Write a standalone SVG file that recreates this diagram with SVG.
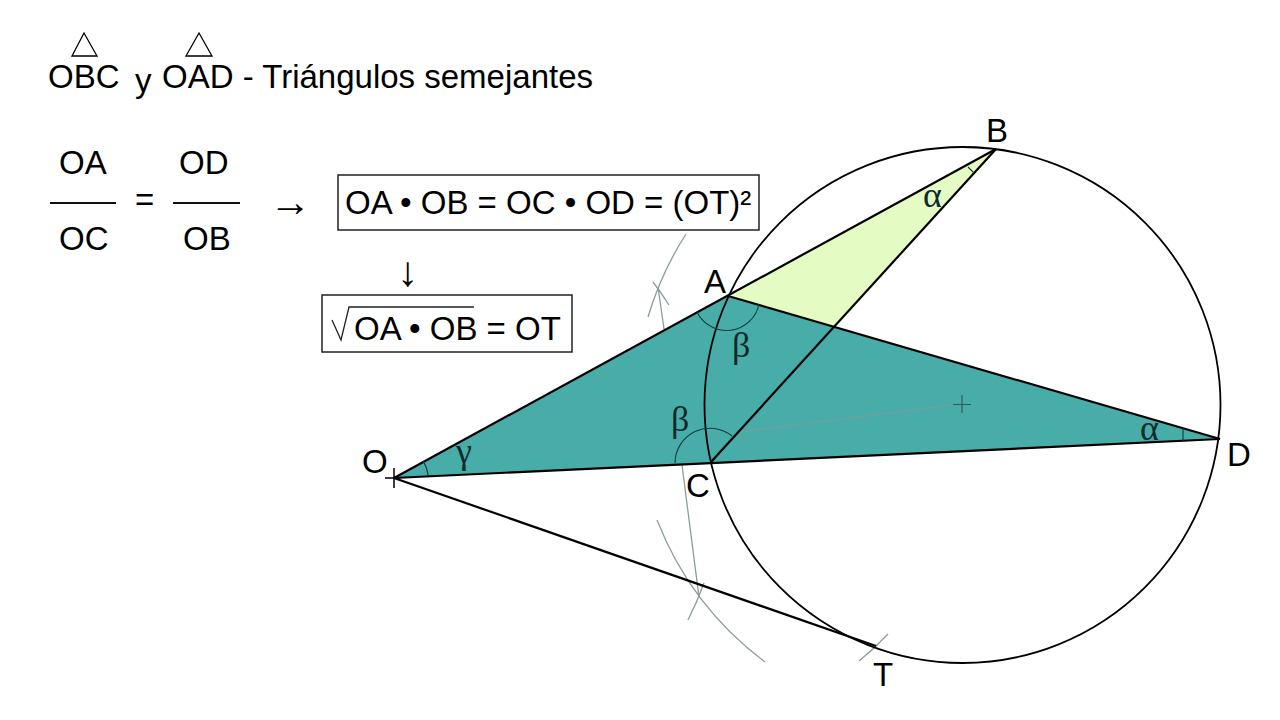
<svg xmlns="http://www.w3.org/2000/svg" width="1280" height="720" viewBox="0 0 1280 720">
<style>
.t{font-family:"Liberation Sans",Arial,sans-serif;font-size:33px;fill:#000}
.ar{font-family:"Liberation Sans",Arial,sans-serif;font-size:42px;fill:#000}
.g{font-family:"Liberation Serif","DejaVu Serif",serif;font-size:36px;fill:#0f2a2a}
.k{fill:none;stroke:#000;stroke-width:2.200}
.c{fill:none;stroke:#000;stroke-width:1.800}
.b{fill:none;stroke:#111;stroke-width:2.200}
.f{fill:none;stroke:#8d9c9c;stroke-width:1.300}
.a{fill:none;stroke:#0c3c3c;stroke-width:1.100}
</style>
<rect width="1280" height="720" fill="#fff"/>
<g id="fills">
<polygon points="394,478 728,296 835,327 1220,439" fill="#48ADA8"/>
<polygon points="728,296 996,149 835,327" fill="#E4FBC4"/>
</g>
<g id="construction">
<path class="f" d="M686 234A326 326 0 0 0 648 317"/>
<path class="f" d="M653 282A325 325 0 0 1 669 305"/>
<path class="f" d="M657 520A326 326 0 0 0 765 662"/>
<path class="f" d="M704 583A325 325 0 0 1 688 620"/>
<path class="f" d="M888 634A286 286 0 0 1 859 661"/>
<path class="f" d="M658 287L664 329M682 465L699 597"/>
<path d="M740 432L962 404" fill="none" stroke="#7f9a9a" stroke-width="1"/>
<path d="M953 404.500H971M962 395V413" fill="none" stroke="#2c5a5a" stroke-width="1.100"/>
</g>
<g id="connectors">
<circle class="c" cx="962.500" cy="405" r="258"/>
<path class="k" d="M394 478L996 149"/>
<path class="k" d="M394 478L1220 439"/>
<path class="k" d="M728 296L1220 439"/>
<path class="k" d="M711 462L996 149"/>
<path class="k" d="M394 478L876 646"/>
<path d="M385 478H400M394 468V488" fill="none" stroke="#000" stroke-width="1.500"/>
</g>
<g id="angles">
<path class="a" d="M697 312A33 33 0 0 0 759 304"/>
<path class="a" d="M675 463A35 35 0 0 1 732 436"/>
<path class="a" d="M423 461A33 33 0 0 1 428 475"/>
<path class="a" d="M1183 428L1183 442"/>
<path class="a" d="M968 167L974 173"/>
<text class="g" x="732" y="357">β</text>
<text class="g" x="671" y="431">β</text>
<text class="g" x="456" y="463">γ</text>
<text class="g" x="1140" y="440">α</text>
<text class="g" x="923" y="207">α</text>
</g>
<g id="labels">
<text class="t" x="704" y="293">A</text>
<text class="t" x="986" y="142">B</text>
<text class="t" x="362" y="473">O</text>
<text class="t" x="686" y="497">C</text>
<text class="t" x="1227" y="466">D</text>
<text class="t" x="873" y="686">T</text>
</g>
<g id="title">
<polygon points="84,33 72,56 97,56" fill="none" stroke="#000" stroke-width="1.300"/>
<polygon points="199,33 186,56 212,56" fill="none" stroke="#000" stroke-width="1.300"/>
<text class="t" x="48" y="88">OBC</text>
<text class="t" x="135" y="92">y</text>
<text class="t" x="162" y="88">OAD - Triángulos semejantes</text>
</g>
<g id="fractions">
<text class="t" x="59" y="174">OA</text>
<path class="b" d="M50 203H116M173 203H240"/>
<text class="t" x="59" y="250">OC</text>
<text class="t" x="135" y="211">=</text>
<text class="t" x="179" y="174">OD</text>
<text class="t" x="183" y="250">OB</text>
<text class="ar" x="269" y="216">→</text>
</g>
<g id="box1">
<rect x="338" y="175" width="421" height="55" fill="#fff" stroke="#222" stroke-width="1.500"/>
<text class="t" x="345" y="214">OA • OB = OC • OD = (OT)²</text>
</g>
<text class="ar" x="397" y="286">↓</text>
<g id="box2">
<rect x="322" y="295" width="250" height="57" fill="#fff" stroke="#222" stroke-width="1.500"/>
<path d="M332 320L341 340L349 307H474" fill="none" stroke="#222" stroke-width="1.300"/>
<text class="t" x="354" y="340">OA • OB = OT</text>
</g>
</svg>
